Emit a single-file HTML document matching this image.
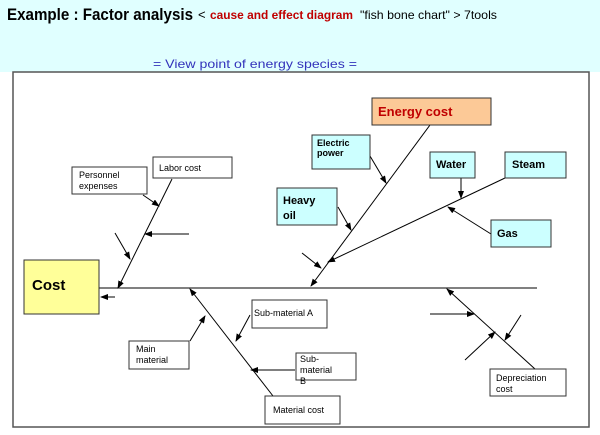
<!DOCTYPE html>
<html><head><meta charset="utf-8"><style>
html,body{margin:0;padding:0;width:600px;height:435px;overflow:hidden;background:#fff;font-family:"Liberation Sans",Arial,sans-serif}
</style></head><body>
<svg width="600" height="435" viewBox="0 0 600 435" xmlns="http://www.w3.org/2000/svg" font-family="Liberation Sans, Arial, sans-serif">
<defs><marker id="a" markerWidth="8" markerHeight="6" refX="7" refY="3" orient="auto" markerUnits="userSpaceOnUse"><path d="M0,0 L8,3 L0,6 z" fill="#000"/></marker></defs>
<rect x="0" y="0" width="600" height="72" fill="#e0ffff"/>
<text x="7" y="20" font-size="17" font-weight="bold" fill="#000" textLength="186" lengthAdjust="spacingAndGlyphs">Example : Factor analysis</text>
<text x="198" y="19" font-size="13" fill="#000">&lt;</text>
<text x="210" y="19" font-size="12" font-weight="bold" fill="#c00000" textLength="143" lengthAdjust="spacingAndGlyphs">cause and effect diagram</text>
<text x="360" y="19" font-size="12" fill="#000" textLength="137" lengthAdjust="spacingAndGlyphs">"fish bone chart" &gt;  7tools</text>
<text x="153" y="68" font-size="12" fill="#3333bb" textLength="204" lengthAdjust="spacingAndGlyphs">= View point of energy species =</text>
<rect x="13" y="72" width="576" height="355" fill="#fff" stroke="#555" stroke-width="1.5"/>
<g stroke="#000" stroke-width="1" fill="none">
<line x1="99" y1="288" x2="537" y2="288"/>
<line x1="115" y1="297" x2="101" y2="297" marker-end="url(#a)"/>
<line x1="172" y1="179" x2="118" y2="288" marker-end="url(#a)"/>
<line x1="143" y1="195" x2="159" y2="206" marker-end="url(#a)"/>
<line x1="189" y1="234" x2="145" y2="234" marker-end="url(#a)"/>
<line x1="115" y1="233" x2="130" y2="259" marker-end="url(#a)"/>
<line x1="273" y1="396" x2="190" y2="289" marker-end="url(#a)"/>
<line x1="250" y1="315" x2="236" y2="341" marker-end="url(#a)"/>
<line x1="190" y1="341" x2="205" y2="316" marker-end="url(#a)"/>
<line x1="295" y1="370" x2="251" y2="370" marker-end="url(#a)"/>
<line x1="430" y1="125" x2="311" y2="286" marker-end="url(#a)"/>
<line x1="370" y1="156" x2="386" y2="183" marker-end="url(#a)"/>
<line x1="338" y1="207" x2="351" y2="230" marker-end="url(#a)"/>
<line x1="461" y1="178" x2="461" y2="198" marker-end="url(#a)"/>
<line x1="505" y1="178" x2="328" y2="262" marker-end="url(#a)"/>
<line x1="491" y1="234" x2="448" y2="207" marker-end="url(#a)"/>
<line x1="302" y1="253" x2="321" y2="268" marker-end="url(#a)"/>
<line x1="535" y1="369" x2="447" y2="289" marker-end="url(#a)"/>
<line x1="430" y1="314" x2="474" y2="314" marker-end="url(#a)"/>
<line x1="465" y1="360" x2="495" y2="332" marker-end="url(#a)"/>
<line x1="521" y1="315" x2="505" y2="340" marker-end="url(#a)"/>
</g>
<g stroke="#333" stroke-width="1">
<rect x="24" y="260" width="75" height="54" fill="#ffff99"/>
<rect x="153" y="157" width="79" height="21" fill="#fff"/>
<rect x="72" y="167" width="75" height="27" fill="#fff"/>
<rect x="252" y="300" width="75" height="28" fill="#fff"/>
<rect x="129" y="341" width="60" height="28" fill="#fff"/>
<rect x="296" y="353" width="60" height="27" fill="#fff"/>
<rect x="265" y="396" width="75" height="28" fill="#fff"/>
<rect x="372" y="98" width="119" height="27" fill="#fcc997"/>
<rect x="312" y="135" width="58" height="34" fill="#ccffff"/>
<rect x="277" y="188" width="60" height="37" fill="#ccffff"/>
<rect x="430" y="152" width="45" height="26" fill="#ccffff"/>
<rect x="505" y="152" width="61" height="26" fill="#ccffff"/>
<rect x="491" y="220" width="60" height="27" fill="#ccffff"/>
<rect x="490" y="369" width="76" height="27" fill="#fff"/>
</g>
<g font-size="9" fill="#000">
<text x="32" y="290" font-size="15" font-weight="bold">Cost</text>
<text x="159" y="171">Labor cost</text>
<text x="79" y="178">Personnel</text><text x="79" y="189">expenses</text>
<text x="254" y="316">Sub-material A</text>
<text x="136" y="352">Main</text><text x="136" y="363">material</text>
<text x="300" y="362">Sub-</text><text x="300" y="373">material</text><text x="300" y="384">B</text>
<text x="273" y="413">Material cost</text>
<text x="378" y="116" font-size="13" font-weight="bold" fill="#c00000">Energy cost</text>
<text x="317" y="146" font-weight="bold">Electric</text><text x="317" y="156" font-weight="bold">power</text>
<text x="283" y="204" font-size="11" font-weight="bold">Heavy</text><text x="283" y="219" font-size="11" font-weight="bold">oil</text>
<text x="436" y="168" font-size="11" font-weight="bold">Water</text>
<text x="512" y="168" font-size="11" font-weight="bold">Steam</text>
<text x="497" y="237" font-size="11" font-weight="bold">Gas</text>
<text x="496" y="381">Depreciation</text><text x="496" y="392">cost</text>
</g>
</svg>
</body></html>
